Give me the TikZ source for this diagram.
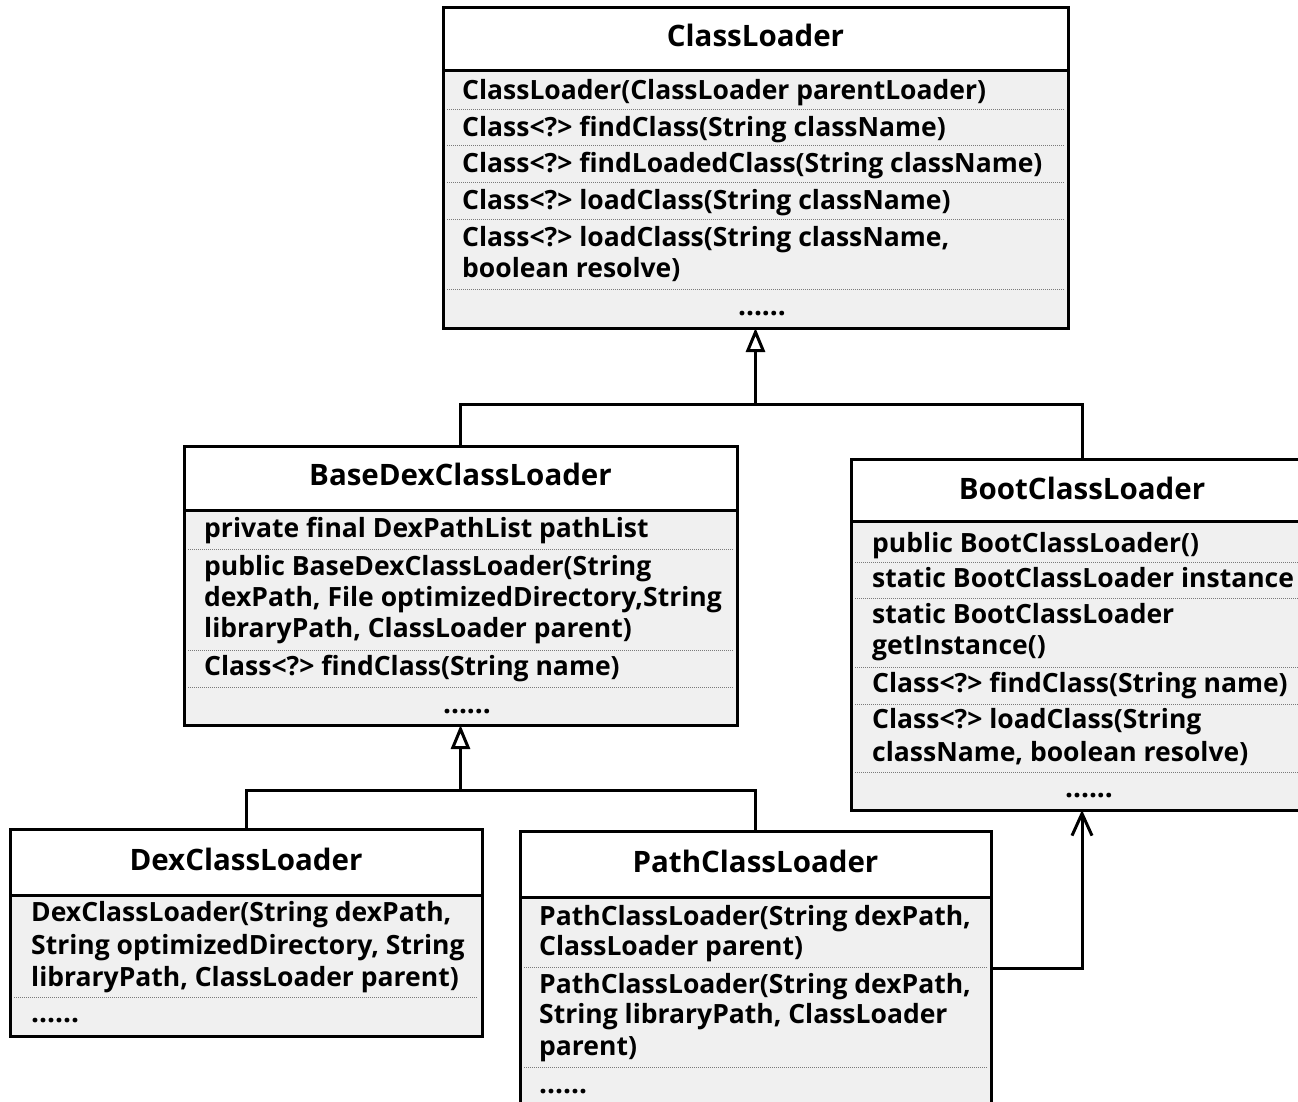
\documentclass[tikz,border=0pt]{standalone}
\usepackage{fontspec}
\setmainfont{Open Sans}
\usetikzlibrary{arrows.meta}
\newcommand{\bodyf}{\fontsize{26.5}{30}\selectfont\bfseries}
\newcommand{\dotsf}{\fontsize{28}{30}\selectfont\bfseries}
\newcommand{\titlef}{\fontsize{29.5}{32}\selectfont\bfseries}
\definecolor{bodygray}{HTML}{F0F0F0}
\definecolor{sepgray}{HTML}{7A7A7A}
\begin{document}
\begin{tikzpicture}[x=1pt,y=-1pt,
  clsbox/.style={draw=black, fill=bodygray, line width=3pt, anchor=north west, inner sep=0pt, outer sep=0pt},
  hdr/.style={draw=black, fill=white, line width=3pt, anchor=north west, inner sep=0pt, outer sep=0pt},
  ttl/.style={anchor=base, inner sep=0pt, font=\titlef},
  txt/.style={anchor=base west, inner sep=0pt, font=\bodyf},
  dots/.style={anchor=base, inner sep=0pt, font=\dotsf},
  ldots/.style={anchor=base west, inner sep=0pt, font=\dotsf},
  sepline/.style={draw=sepgray, line width=1pt, dash pattern=on 1pt off 1pt},
  conn/.style={draw=black, line width=3pt},
  inh/.style={conn, -{Triangle[open, length=24pt, width=19pt]}},
  assoc/.style={conn, -{Straight Barb[length=22pt, width=20pt]}}
]
\useasboundingbox (0,0) rectangle (1298,1102);
\clip (0,0) rectangle (1298,1102);

% ---------------- ClassLoader ----------------
\node[clsbox, minimum width=625, minimum height=320] (cl) at (443,8) {};
\node[hdr, minimum width=625, minimum height=63] (clh) at (443,8) {};
\node[ttl] (clt) at (755.5,47) {ClassLoader};
\node[txt] (cl1) at (462,100) {ClassLoader(ClassLoader parentLoader)};
\node[txt] (cl2) at (462,137) {Class<?> findClass(String className)};
\node[txt] (cl3) at (462,173) {Class<?> findLoadedClass(String className)};
\node[txt] (cl4) at (462,210) {Class<?> loadClass(String className)};
\node[txt] (cl5) at (462,246) {Class<?> loadClass(String className,};
\node[txt] (cl6) at (462,277) {boolean resolve)};
\node[dots] (cl7) at (762,315) {......};
\foreach \yy in {110,146,183,220,289} \draw[sepline] (447,\yy) -- (1064,\yy);

% ---------------- BaseDexClassLoader ----------------
\node[clsbox, minimum width=553, minimum height=279] (base) at (184,446) {};
\node[hdr, minimum width=553, minimum height=64] (baseh) at (184,446) {};
\node[ttl] (baset) at (460.5,485) {BaseDexClassLoader};
\node[txt] (b1) at (204,537) {private final DexPathList pathList};
\node[txt] (b2) at (204,575) {public BaseDexClassLoader(String};
\node[txt] (b3) at (204,606) {dexPath, File optimizedDirectory,String};
\node[txt] (b4) at (204,637) {libraryPath, ClassLoader parent)};
\node[txt] (b5) at (204,675) {Class<?> findClass(String name)};
\node[dots] (b6) at (467,713) {......};
\foreach \yy in {549,650,687} \draw[sepline] (188,\yy) -- (733,\yy);

% ---------------- BootClassLoader ----------------
\node[clsbox, minimum width=462, minimum height=351] (boot) at (851,459) {};
\node[hdr, minimum width=462, minimum height=62] (booth) at (851,459) {};
\node[ttl] (boott) at (1082,499) {BootClassLoader};
\node[txt] (bt1) at (872,552) {public BootClassLoader()};
\node[txt] (bt2) at (872,587) {static BootClassLoader instance};
\node[txt] (bt3) at (872,623) {static BootClassLoader};
\node[txt] (bt4) at (872,654) {getInstance()};
\node[txt] (bt5) at (872,692) {Class<?> findClass(String name)};
\node[txt] (bt6) at (872,728) {Class<?> loadClass(String};
\node[txt] (bt7) at (872,761) {className, boolean resolve)};
\node[dots] (bt8) at (1089,797) {......};
\foreach \yy in {562,598,667,704,772} \draw[sepline] (855,\yy) -- (1309,\yy);

% ---------------- DexClassLoader ----------------
\node[clsbox, minimum width=472, minimum height=207] (dex) at (10,829) {};
\node[hdr, minimum width=472, minimum height=66] (dexh) at (10,829) {};
\node[ttl] (dext) at (246,870) {DexClassLoader};
\node[txt] (d1) at (31,921) {DexClassLoader(String dexPath,};
\node[txt] (d2) at (31,954) {String optimizedDirectory, String};
\node[txt] (d3) at (31,986) {libraryPath, ClassLoader parent)};
\node[ldots] (d4) at (31,1022) {......};
\draw[sepline] (14,997) -- (478,997);

% ---------------- PathClassLoader ----------------
\node[clsbox, minimum width=471, minimum height=290] (path) at (520,831) {};
\node[hdr, minimum width=471, minimum height=66] (pathh) at (520,831) {};
\node[ttl] (patht) at (755.5,872) {PathClassLoader};
\node[txt] (p1) at (539,925) {PathClassLoader(String dexPath,};
\node[txt] (p2) at (539,955) {ClassLoader parent)};
\node[txt] (p3) at (539,993) {PathClassLoader(String dexPath,};
\node[txt] (p4) at (539,1023) {String libraryPath, ClassLoader};
\node[txt] (p5) at (539,1055) {parent)};
\node[ldots] (p6) at (539,1093) {......};
\foreach \yy in {967,1067} \draw[sepline] (524,\yy) -- (987,\yy);

% ---------------- connectors ----------------
\coordinate (j1) at (cl.south |- 0,404);
\coordinate (j2) at (base.south |- 0,790);
\coordinate (pe) at (path.east |- 0,968);
\draw[inh] (base.north) |- (j1) -- (cl.south);
\draw[conn] (boot.north) |- (j1);
\draw[inh] (dex.north) |- (j2) -- (base.south);
\draw[conn] (path.north) |- (j2);
\draw[assoc] (pe) -| (boot.south);
\end{tikzpicture}
\end{document}
